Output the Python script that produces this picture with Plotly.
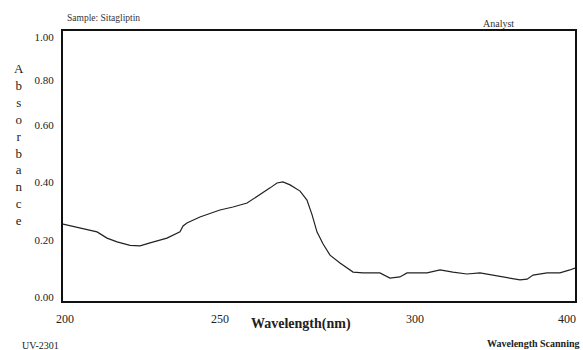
import plotly.graph_objects as go

# Wavelength positions (axis units) and absorbance readings along the scan
wavelength = [200.0, 213.3, 217.2, 221.1, 226.2, 230.1, 234.0, 240.6, 245.7, 246.9,
              248.4, 253.5, 261.3, 266.4, 271.9, 277.0, 280.9, 283.6, 285.9, 288.7,
              292.6, 295.3, 297.3, 299.2, 301.6, 304.3, 308.2, 313.3, 317.2, 323.8,
              327.7, 331.6, 334.4, 342.2, 347.3, 352.3, 357.8, 362.9, 368.0, 373.4,
              378.5, 381.3, 383.6, 389.1, 394.1, 398.0, 400.0]
absorbance = [0.285, 0.256, 0.233, 0.219, 0.206, 0.204, 0.215, 0.233, 0.256, 0.278,
              0.289, 0.311, 0.337, 0.348, 0.363, 0.393, 0.419, 0.437, 0.441, 0.430,
              0.407, 0.374, 0.319, 0.256, 0.211, 0.170, 0.141, 0.107, 0.104, 0.104,
              0.085, 0.089, 0.104, 0.104, 0.115, 0.107, 0.100, 0.104, 0.096, 0.085,
              0.078, 0.081, 0.096, 0.104, 0.104, 0.115, 0.122]

x_tick_pos = [200.8, 261.3, 337.5, 396.9]
x_tick_text = ["200", "250", "300", "400"]
y_tick_pos = [0.015, 0.226, 0.441, 0.652, 0.819, 0.978]
y_tick_text = ["0.00", "0.20", "0.40", "0.60", "0.80", "1.00"]
y_title_letters = list("Absorbance")

SERIF = "Liberation Serif, Times New Roman, serif"

fig = go.Figure()
fig.add_trace(go.Scatter(
    x=wavelength, y=absorbance, mode="lines",
    line=dict(color="#222222", width=1.2), showlegend=False, hoverinfo="skip"))

fig.update_layout(
    width=583, height=350,
    margin=dict(l=63, r=8, t=31, b=49, autoexpand=False),
    paper_bgcolor="white", plot_bgcolor="white",
    font=dict(family=SERIF, color="#222222"),
    xaxis=dict(range=[200, 400], showgrid=False, zeroline=False,
               showline=True, mirror=True, linecolor="#111111", linewidth=2,
               tickmode="array", tickvals=x_tick_pos, ticktext=x_tick_text,
               ticks="", tickfont=dict(family=SERIF, size=12, color="#222222"),
               ticklabelstandoff=6),
    yaxis=dict(range=[0, 1], showgrid=False, zeroline=False,
               showline=True, mirror=True, linecolor="#111111", linewidth=2,
               tickmode="array", tickvals=y_tick_pos, ticktext=y_tick_text,
               ticks="", tickfont=dict(family=SERIF, size=11, color="#222222"),
               ticklabelstandoff=5),
)

fig.add_annotation(text="<br>".join(y_title_letters), xref="paper", yref="paper",
                   x=-0.086, y=0.58, xanchor="center", yanchor="middle",
                   showarrow=False, align="center",
                   font=dict(family=SERIF, size=13, color="#222222"))
fig.add_annotation(text="Sample: Sitagliptin", xref="paper", yref="paper",
                   x=0.003, y=1.0, yshift=13, xanchor="left", yanchor="middle",
                   showarrow=False, font=dict(family=SERIF, size=9.5, color="#333333"))
fig.add_annotation(text="Analyst", xref="paper", yref="paper",
                   x=0.851, y=1.0, yshift=8, xanchor="center", yanchor="middle",
                   showarrow=False, font=dict(family=SERIF, size=10, color="#333333"))
fig.add_annotation(text="<b>Wavelength(nm)</b>", xref="paper", yref="paper",
                   x=0.465, y=0.0, yshift=-23, xanchor="center", yanchor="middle",
                   showarrow=False, font=dict(family=SERIF, size=14, color="#222222"))
fig.add_annotation(text="UV-2301", xref="paper", yref="paper",
                   x=-0.084, y=0.0, yshift=-44, xanchor="left", yanchor="middle",
                   showarrow=False, font=dict(family=SERIF, size=10, color="#222222"))
fig.add_annotation(text="<b>Wavelength Scanning</b>", xref="paper", yref="paper",
                   x=1.0, xshift=7, y=0.0, yshift=-42, xanchor="right", yanchor="middle",
                   showarrow=False, font=dict(family=SERIF, size=10, color="#222222"))

fig.write_html("out.html",
               config={"displayModeBar": False},
               post_script="document.body.style.margin='0px';document.body.style.overflow='hidden';")
